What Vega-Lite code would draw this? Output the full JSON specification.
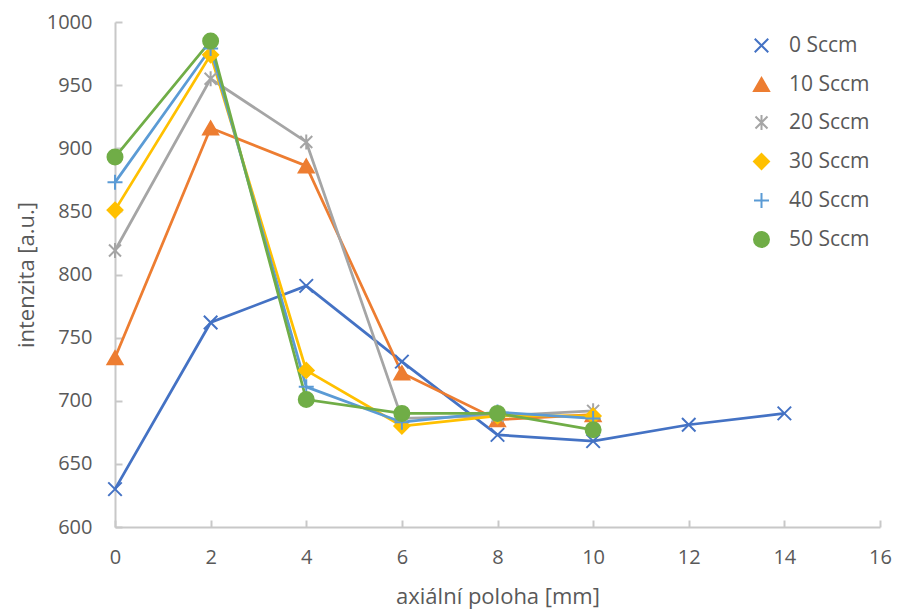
{
  "$schema": "https://vega.github.io/schema/vega-lite/v6.json",
  "width": 765,
  "height": 505,
  "autosize": "none",
  "padding": {"left": 115, "top": 22, "right": 17, "bottom": 82},
  "background": "white",
  "config": {
    "view": {"stroke": null},
    "font": "Open Sans",
    "axis": {"grid": false, "domainColor": "#C8C8C8", "domainWidth": 2, "tickColor": "#C8C8C8", "tickWidth": 2, "labelColor": "#595959", "titleColor": "#595959", "labelFontSize": 20, "titleFontSize": 22, "titleFontWeight": "normal", "labelFont": "Open Sans", "titleFont": "Open Sans", "labelFlush": false}
  },
  "data": {
    "values": [
      {"x": 0, "y": 630, "series": "0 Sccm"},
      {"x": 2, "y": 762, "series": "0 Sccm"},
      {"x": 4, "y": 791, "series": "0 Sccm"},
      {"x": 6, "y": 731, "series": "0 Sccm"},
      {"x": 8, "y": 673, "series": "0 Sccm"},
      {"x": 10, "y": 668, "series": "0 Sccm"},
      {"x": 12, "y": 681, "series": "0 Sccm"},
      {"x": 14, "y": 690, "series": "0 Sccm"},
      {"x": 0, "y": 734, "series": "10 Sccm"},
      {"x": 2, "y": 916, "series": "10 Sccm"},
      {"x": 4, "y": 886, "series": "10 Sccm"},
      {"x": 6, "y": 722, "series": "10 Sccm"},
      {"x": 8, "y": 685, "series": "10 Sccm"},
      {"x": 10, "y": 689, "series": "10 Sccm"},
      {"x": 0, "y": 819, "series": "20 Sccm"},
      {"x": 2, "y": 955, "series": "20 Sccm"},
      {"x": 4, "y": 905, "series": "20 Sccm"},
      {"x": 6, "y": 686, "series": "20 Sccm"},
      {"x": 8, "y": 688, "series": "20 Sccm"},
      {"x": 10, "y": 692, "series": "20 Sccm"},
      {"x": 0, "y": 851, "series": "30 Sccm"},
      {"x": 2, "y": 974, "series": "30 Sccm"},
      {"x": 4, "y": 724, "series": "30 Sccm"},
      {"x": 6, "y": 680, "series": "30 Sccm"},
      {"x": 8, "y": 688, "series": "30 Sccm"},
      {"x": 10, "y": 688, "series": "30 Sccm"},
      {"x": 0, "y": 873, "series": "40 Sccm"},
      {"x": 2, "y": 979, "series": "40 Sccm"},
      {"x": 4, "y": 711, "series": "40 Sccm"},
      {"x": 6, "y": 683, "series": "40 Sccm"},
      {"x": 8, "y": 691, "series": "40 Sccm"},
      {"x": 10, "y": 686, "series": "40 Sccm"},
      {"x": 0, "y": 893, "series": "50 Sccm"},
      {"x": 2, "y": 985, "series": "50 Sccm"},
      {"x": 4, "y": 701, "series": "50 Sccm"},
      {"x": 6, "y": 690, "series": "50 Sccm"},
      {"x": 8, "y": 690, "series": "50 Sccm"},
      {"x": 10, "y": 677, "series": "50 Sccm"}
    ]
  },
  "encoding": {
    "x": {"field": "x", "type": "quantitative", "scale": {"domain": [0, 16], "nice": false}, "axis": {"values": [0, 2, 4, 6, 8, 10, 12, 14, 16], "tickSize": -7, "labelPadding": 27, "title": "axiální poloha [mm]", "titlePadding": 19}},
    "y": {"field": "y", "type": "quantitative", "scale": {"domain": [600, 1000], "nice": false, "zero": false}, "axis": {"values": [600, 650, 700, 750, 800, 850, 900, 950, 1000], "format": "d", "tickSize": -7, "labelPadding": 30, "title": "intenzita [a.u.]", "titlePadding": 8}}
  },
  "layer": [
    {
      "mark": {"type": "line", "strokeWidth": 2.75},
      "encoding": {
        "color": {"field": "series", "type": "nominal",
          "scale": {"domain": ["0 Sccm", "10 Sccm", "20 Sccm", "30 Sccm", "40 Sccm", "50 Sccm"], "range": ["#4472C4", "#ED7D31", "#A5A5A5", "#FFC000", "#5B9BD5", "#70AD47"]},
          "legend": {
            "title": null, "orient": "none", "legendX": 636, "legendY": 13,
            "symbolSize": 225, "symbolStrokeWidth": 2, "labelOffset": 17, "labelFontSize": 21, "labelColor": "#595959", "labelFont": "Open Sans", "rowPadding": 16
          }
        }
      }
    },
    {
      "mark": {"type": "point", "filled": true, "size": 225, "strokeWidth": 2, "opacity": 1},
      "encoding": {
        "color": {"field": "series", "type": "nominal", "legend": null},
        "stroke": {"field": "series", "type": "nominal", "legend": null,
          "scale": {"domain": ["0 Sccm", "10 Sccm", "20 Sccm", "30 Sccm", "40 Sccm", "50 Sccm"], "range": ["#4472C4", "#ED7D31", "#A5A5A5", "#FFC000", "#5B9BD5", "#70AD47"]}},
        "shape": {"field": "series", "type": "nominal", "legend": null,
          "scale": {"domain": ["0 Sccm", "10 Sccm", "20 Sccm", "30 Sccm", "40 Sccm", "50 Sccm"], "range": ["M-0.9,-0.9L0.9,0.9M-0.9,0.9L0.9,-0.9", "triangle-up", "M-0.8,-0.8L0.8,0.8M-0.8,0.8L0.8,-0.8M0,-1L0,1", "diamond", "M-1,0L1,0M0,-1L0,1", "circle"]}}
      }
    }
  ]
}
